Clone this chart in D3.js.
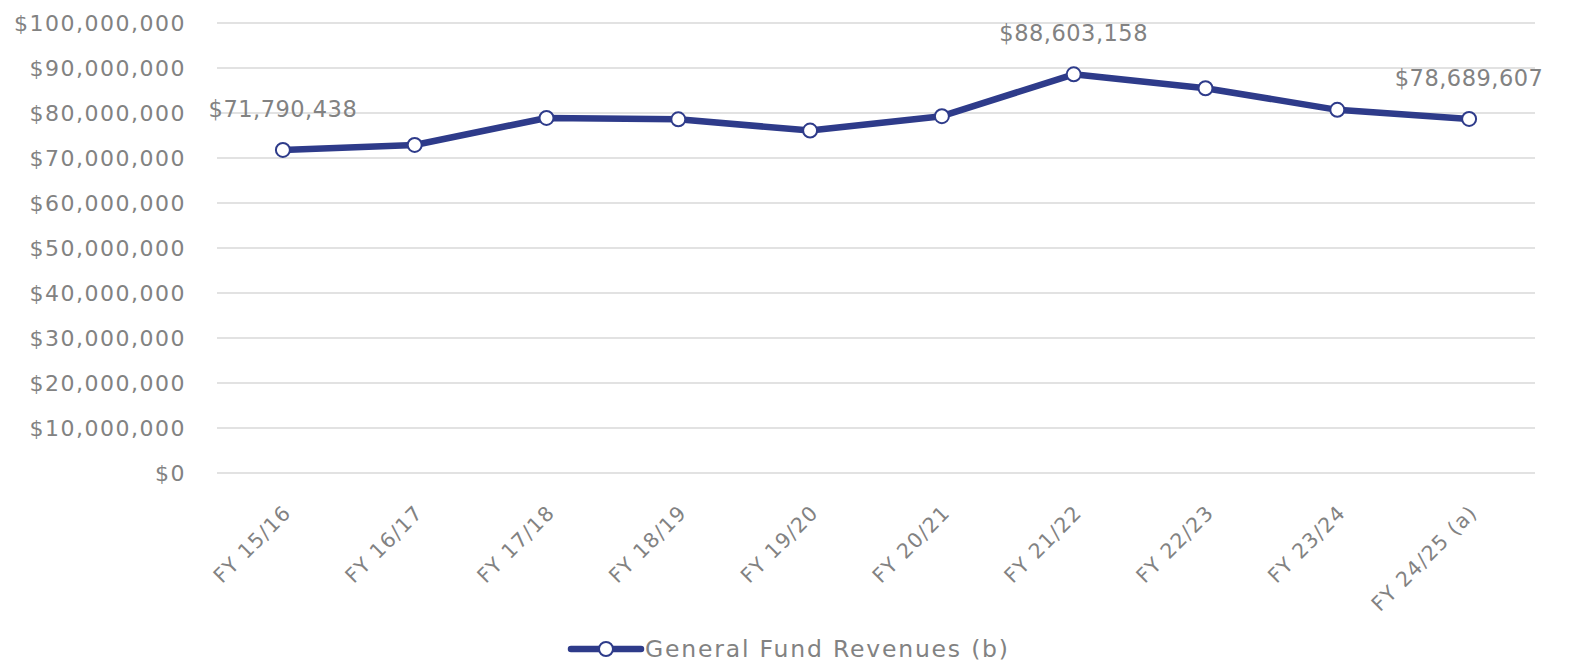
<!DOCTYPE html>
<html><head><meta charset="utf-8">
<script src="https://cdn.jsdelivr.net/npm/d3@7"></script>
<style>html,body{margin:0;padding:0;background:#fff;}svg{display:block;font-family:"DejaVu Sans",sans-serif;}</style>
</head><body>
<svg id="c" width="1575" height="664"></svg>
<script>
const categories = ["FY 15/16","FY 16/17","FY 17/18","FY 18/19","FY 19/20","FY 20/21","FY 21/22","FY 22/23","FY 23/24","FY 24/25 (a)"];
const revenues = [71790438, 72900000, 78900000, 78600000, 76100000, 79300000, 88603158, 85500000, 80700000, 78689607];
const yTicks = [0,10000000,20000000,30000000,40000000,50000000,60000000,70000000,80000000,90000000,100000000];
const labelIdx = [0, 6, 9];
const seriesName = "General Fund Revenues (b)";

const svg = d3.select("#c");
const margin = {left:217, right:40, top:23, bottom:191};
const W = 1575, H = 664;
const x = d3.scalePoint().domain(categories).range([margin.left, W - margin.right]).padding(0.5);
const y = d3.scaleLinear().domain([0, 100000000]).range([H - margin.bottom, margin.top]);
const fmt = v => "$" + d3.format(",")(v);
const gray = "#828282", navy = "#2e3b8a";
const FONT = '"DejaVu Sans",sans-serif';

// gridlines
svg.append("g").selectAll("line").data(yTicks).join("line")
  .attr("x1", margin.left).attr("x2", W - margin.right)
  .attr("y1", d => y(d)).attr("y2", d => y(d))
  .attr("stroke", "#d9d9d9").attr("stroke-width", 1.5);

// y axis
const yAxis = svg.append("g").attr("transform", `translate(${margin.left - 31},0)`)
  .call(d3.axisLeft(y).tickValues(yTicks).tickFormat(fmt).tickSize(0).tickPadding(0));
yAxis.select(".domain").remove();
yAxis.selectAll("text").attr("fill", gray).style("font-size", "22px").style("font-family", FONT)
  .style("letter-spacing", "1.5px");

// x axis
const xAxis = svg.append("g").attr("transform", `translate(0,${H - margin.bottom})`)
  .call(d3.axisBottom(x).tickSize(0).tickPadding(0));
xAxis.select(".domain").remove();
xAxis.selectAll("text").attr("fill", gray).style("font-size", "20.5px").style("font-family", FONT)
  .style("letter-spacing", "1.2px")
  .attr("text-anchor", "end").attr("dy", null).attr("y", 0)
  .attr("transform", "translate(9,41) rotate(-45)");

// line
const line = d3.line().x((d,i) => x(categories[i])).y(d => y(d));
svg.append("path").datum(revenues).attr("d", line)
  .attr("fill", "none").attr("stroke", navy).attr("stroke-width", 6.5).attr("stroke-linejoin", "round");
svg.append("g").selectAll("circle").data(revenues).join("circle")
  .attr("cx", (d,i) => x(categories[i])).attr("cy", d => y(d)).attr("r", 7)
  .attr("fill", "#fff").attr("stroke", navy).attr("stroke-width", 2);

// data labels
svg.append("g").selectAll("text").data(labelIdx).join("text")
  .attr("x", i => x(categories[i])).attr("y", i => y(revenues[i]) - 33)
  .attr("text-anchor", "middle").attr("fill", gray).style("font-size", "22.5px").style("font-family", FONT)
  .style("letter-spacing", "0.5px")
  .text(i => fmt(revenues[i]));

// legend
const lg = svg.append("g").attr("transform", "translate(571,649)");
lg.append("line").attr("x1", 0).attr("x2", 70).attr("y1", 0).attr("y2", 0)
  .attr("stroke", navy).attr("stroke-width", 6.5).attr("stroke-linecap", "round");
lg.append("circle").attr("cx", 35).attr("cy", 0).attr("r", 7).attr("fill", "#fff").attr("stroke", navy).attr("stroke-width", 2);
lg.append("text").attr("x", 74).attr("y", 0).attr("dy", "0.36em").attr("fill", gray)
  .style("font-size", "23.5px").style("font-family", FONT).style("letter-spacing", "1.8px").text(seriesName);
</script>
</body></html>
